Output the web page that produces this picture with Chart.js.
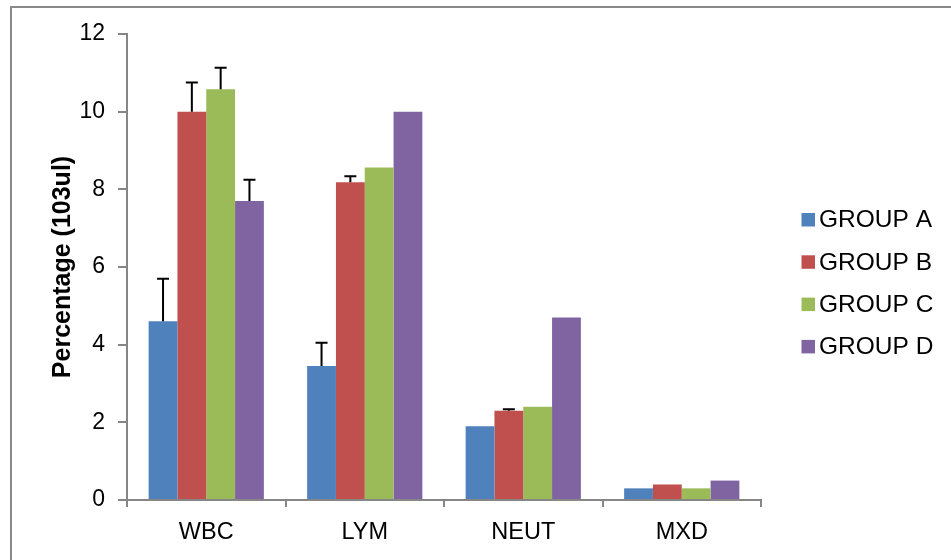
<!DOCTYPE html>
<html>
<head>
<meta charset="utf-8">
<script src="https://cdn.jsdelivr.net/npm/chart.js@4/dist/chart.umd.min.js"></script>
<style>
  html, body { margin: 0; padding: 0; background: #fff; }
  #wrap { position: relative; width: 951px; height: 560px; overflow: hidden; }
  #frame { position: absolute; left: 10px; top: 6px; width: 960px; height: 600px;
           border-left: 2px solid #8a8a8a; border-top: 2px solid #8a8a8a; box-sizing: border-box; }
  canvas { position: absolute; left: 0; top: 0; }
</style>
</head>
<body>
<div id="wrap">
  <div id="frame"></div>
  <canvas id="chart" width="951" height="560"></canvas>
</div>
<script>
// data
const categories = ['WBC', 'LYM', 'NEUT', 'MXD'];
const groupNames = ['GROUP A', 'GROUP B', 'GROUP C', 'GROUP D'];
const groupA = [4.6, 3.45, 1.9, 0.3];
const groupB = [10.0, 8.18, 2.3, 0.4];
const groupC = [10.58, 8.56, 2.4, 0.3];
const groupD = [7.7, 10.0, 4.7, 0.5];
// upper error bar lengths (0 = none drawn)
const errA = [1.1, 0.6, 0, 0];
const errB = [0.75, 0.16, 0.04, 0];
const errC = [0.55, 0, 0, 0];
const errD = [0.55, 0, 0, 0];
const colors = ['#4F81BD', '#C0504D', '#9BBB59', '#8064A2'];

const FONT = 'Liberation Sans, Arial, sans-serif';

const errorBars = {
    id: 'errorBars',
    afterDatasetsDraw(chart) {
        const ctx = chart.ctx;
        const y = chart.scales.y;
        ctx.save();
        ctx.strokeStyle = '#000';
        ctx.lineWidth = 2;
        chart.data.datasets.forEach((ds, di) => {
            const meta = chart.getDatasetMeta(di);
            meta.data.forEach((bar, i) => {
                const e = ds.errors[i];
                if (!e) return;
                const top = y.getPixelForValue(ds.data[i] + e);
                ctx.beginPath();
                ctx.moveTo(bar.x, bar.y);
                ctx.lineTo(bar.x, top);
                ctx.moveTo(bar.x - 6, top);
                ctx.lineTo(bar.x + 6, top);
                ctx.stroke();
            });
        });
        ctx.restore();
    }
};

const sideLegend = {
    id: 'sideLegend',
    afterDraw(chart) {
        const ctx = chart.ctx;
        ctx.save();
        ctx.font = '24.5px ' + FONT;
        ctx.textBaseline = 'middle';
        ctx.textAlign = 'left';
        chart.data.datasets.forEach((ds, i) => {
            const cy = 219.5 + i * 42.3;
            ctx.fillStyle = ds.backgroundColor;
            ctx.fillRect(801.5, cy - 6.5, 13.5, 13.5);
            ctx.fillStyle = '#000';
            ctx.fillText(ds.label, 819, cy + 1);
        });
        ctx.restore();
    }
};

const series = [groupA, groupB, groupC, groupD];
const errs = [errA, errB, errC, errD];

new Chart(document.getElementById('chart'), {
    type: 'bar',
    data: {
        labels: categories,
        datasets: series.map((d, i) => ({
            label: groupNames[i],
            data: d,
            errors: errs[i],
            backgroundColor: colors[i],
            borderWidth: 0,
            categoryPercentage: 0.727,
            barPercentage: 1.0
        }))
    },
    options: {
        responsive: false,
        animation: false,
        layout: { padding: { left: 0, right: 190, top: 34, bottom: 0 } },
        plugins: { legend: { display: false }, tooltip: { enabled: false } },
        scales: {
            x: {
                afterFit: s => { s.height = 60; },
                grid: { offset: true, drawOnChartArea: false, drawTicks: true, tickLength: 7, color: '#868686', lineWidth: 2 },
                border: { display: true, color: '#868686', width: 2 },
                ticks: { color: '#000', font: { family: FONT, size: 23.5 }, padding: 11 }
            },
            y: {
                min: 0, max: 12,
                afterFit: s => { s.width = 127; },
                grid: { drawOnChartArea: false, drawTicks: true, tickLength: 9, color: '#868686', lineWidth: 2 },
                border: { display: true, color: '#868686', width: 2 },
                ticks: { stepSize: 2, color: '#000', font: { family: FONT, size: 23 }, padding: 13 },
                title: {
                    display: true,
                    text: 'Percentage (103ul)',
                    color: '#000',
                    font: { family: FONT, size: 25, weight: 'bold' },
                    padding: { top: 48, bottom: 0 }
                }
            }
        }
    },
    plugins: [errorBars, sideLegend]
});
</script>
</body>
</html>
